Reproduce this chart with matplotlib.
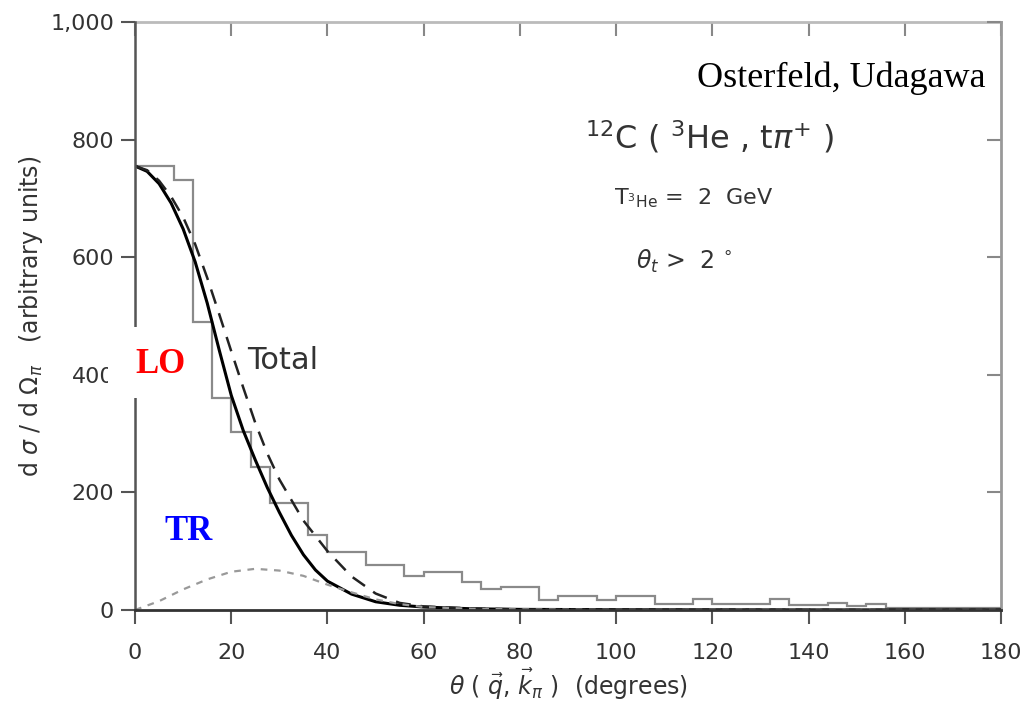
import numpy as np
import matplotlib
matplotlib.use('Agg')
import matplotlib.pyplot as plt
from matplotlib.patches import Rectangle

plt.rcParams['font.family'] = ['DejaVu Sans']

# histogram (4 degree bins)
bin_width = 4
hist_values = [755, 755, 731, 489, 360, 303, 244, 182, 182, 128,
               99, 99, 77, 77, 58, 64, 64, 47, 35, 39,
               39, 17, 24, 24, 17, 24, 24, 10, 10, 18,
               10, 10, 10, 18, 8, 8, 12, 6, 11, 4,
               4, 4, 3, 3, 3]

# LO curve (solid)
lo_theta = [0, 2.5, 5, 7.5, 10, 12.5, 15, 17.5, 20, 22.5, 25, 27.5, 30, 32.5, 35,
            37.5, 40, 45, 50, 55, 60, 70, 80, 100, 140, 180]
lo_sigma = [755, 746, 725, 692, 648, 592, 522, 442, 365, 305, 255, 208, 166, 127, 94,
            68, 49, 27, 14, 8, 5, 2, 1, 0.5, 0.2, 0]

# Total curve (dashed)
tot_theta = [0, 2.5, 5, 7.5, 10, 12.5, 15, 17.5, 20, 22.5, 25, 27.5, 30, 35, 40, 45,
             50, 55, 60, 70, 80, 100, 140, 180]
tot_sigma = [755, 748, 730, 703, 668, 622, 565, 503, 440, 378, 318, 266, 222, 152, 100, 57,
             28, 12, 6, 2.5, 1, 0.5, 0.2, 0]

# TR curve (dotted)
tr_theta = [0, 5, 10, 15, 20, 25, 30, 35, 40, 45, 50, 55, 60, 70, 80, 100, 180]
tr_sigma = [0, 15, 35, 52, 65, 70, 67, 58, 43, 30, 18, 10, 5, 2, 1, 0.3, 0]

xticks = [0, 20, 40, 60, 80, 100, 120, 140, 160, 180]
yticks = [0, 200, 400, 600, 800, 1000]
ytick_labels = ['0', '200', '400', '600', '800', '1,000']

fig = plt.figure(figsize=(10.34, 7.12), dpi=100)
ax = fig.add_axes([0.1306, 0.1433, 0.8375, 0.8258])

edges = np.arange(len(hist_values) + 1) * bin_width
ax.stairs(hist_values, edges, color='#8a8a8a', lw=1.6)

ax.plot(lo_theta, lo_sigma, color='black', lw=2.2)
ax.plot(tot_theta, tot_sigma, color='#222222', lw=1.8, dashes=(6, 4))
ax.plot(tr_theta, tr_sigma, color='#999999', lw=1.6, dashes=(3, 3))

ax.set_xlim(0, 180)
ax.set_ylim(0, 1000)

ax.set_xticks(xticks)
ax.set_yticks(yticks)
ax.set_yticklabels(ytick_labels)
ax.tick_params(axis='both', direction='out', length=10, width=1.5,
               color='#555555', labelsize=16, labelcolor='#333333', pad=5)
ax.tick_params(axis='x', pad=14)

# inward ticks on top and right
ax_top = ax.secondary_xaxis('top')
ax_top.set_xticks(xticks)
ax_top.tick_params(direction='in', length=10, width=1.5, color='#888888')
ax_top.set_xticklabels([])
ax_right = ax.secondary_yaxis('right')
ax_right.set_yticks(yticks)
ax_right.tick_params(direction='in', length=10, width=1.5, color='#888888')
ax_right.set_yticklabels([])
ax_top.spines['top'].set_color('#bbbbbb')
ax_top.spines['top'].set_linewidth(2)
ax_right.spines['right'].set_color('#999999')
ax_right.spines['right'].set_linewidth(2)

ax.spines['left'].set_color('#555555')
ax.spines['bottom'].set_color('#333333')
ax.spines['left'].set_linewidth(1.8)
ax.spines['bottom'].set_linewidth(2)
ax.spines['top'].set_visible(False)
ax.spines['right'].set_visible(False)

ax.set_xlabel(r'$\theta$ ( $\vec{q}$, $\vec{k}_\pi$ )  (degrees)', fontsize=17,
              color='#333333', labelpad=2)
ax.set_ylabel(r'd $\sigma$ / d $\Omega_\pi$   (arbitrary units)', fontsize=17,
              color='#333333', labelpad=4)

# annotations
ax.text(0.982, 0.905, 'Osterfeld, Udagawa', transform=ax.transAxes, ha='right', va='center',
        fontsize=26, family='Liberation Serif', color='black')
ax.text(0.52, 0.805, r'$^{12}$C ( $^{3}$He , t$\pi^{+}$ )', transform=ax.transAxes,
        ha='left', va='center', fontsize=23, color='#333333')
ax.text(0.553, 0.70, r'T$_{^3\mathrm{He}}$ =  2  GeV', transform=ax.transAxes,
        ha='left', va='center', fontsize=16, color='#333333')
ax.text(0.578, 0.593, r'$\theta_t$ >  2 $^{\circ}$', transform=ax.transAxes,
        ha='left', va='center', fontsize=17, color='#333333')
ax.text(23.3, 425, 'Total', fontsize=22, color='#333333', ha='left', va='center')

# white patch with LO label
fig.patches.append(Rectangle((108 / 1034, 1 - 398 / 712), 92 / 1034, 71 / 712,
                             transform=fig.transFigure, facecolor='white',
                             edgecolor='none', zorder=5))
fig.text(160 / 1034, 1 - 365 / 712, 'LO', color='#ff0000', fontsize=25, weight='bold',
         family='Liberation Serif', ha='center', va='center', zorder=6)
fig.text(189 / 1034, 1 - 532 / 712, 'TR', color='#0000ff', fontsize=25, weight='bold',
         family='Liberation Serif', ha='center', va='center', zorder=6)

fig.savefig('out.png', dpi=100)
